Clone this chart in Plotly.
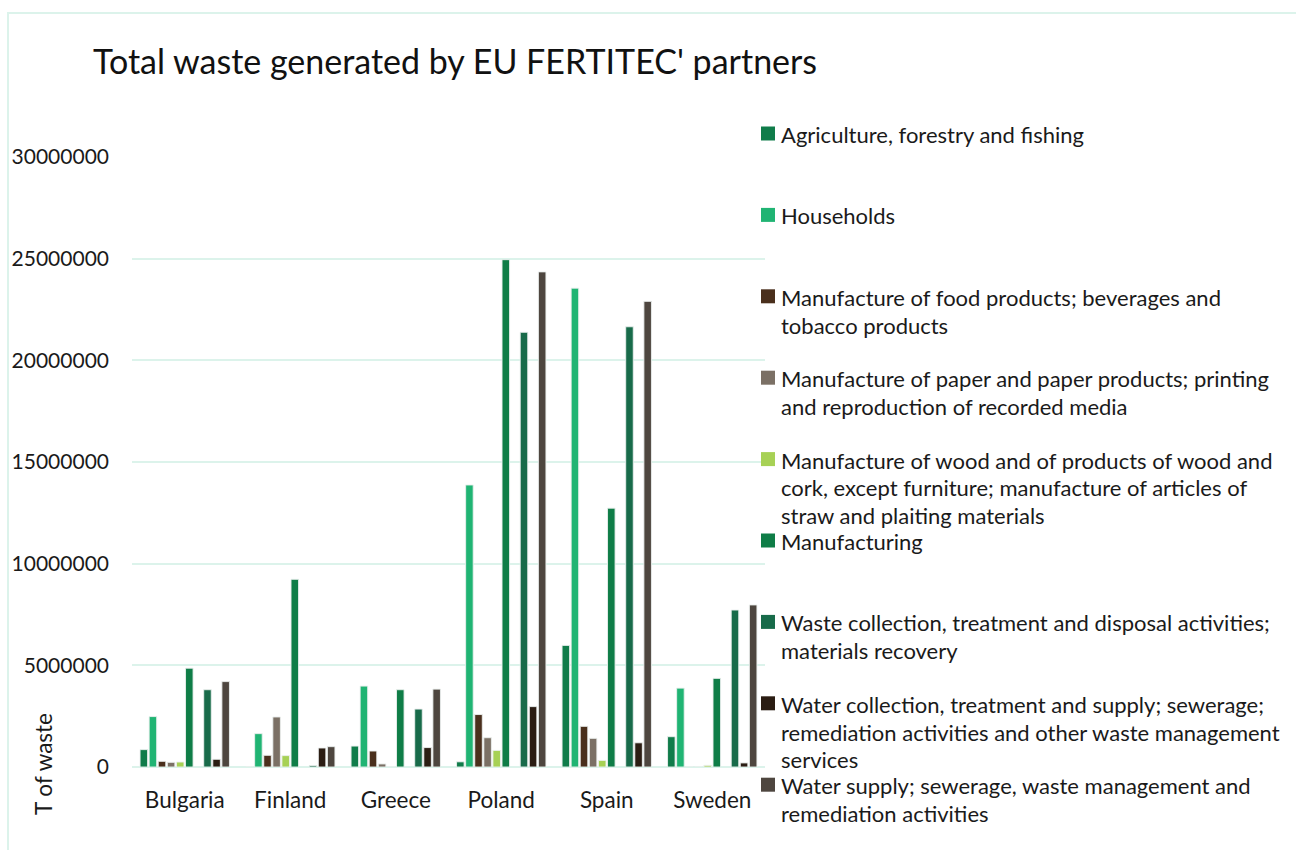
import plotly.graph_objects as go

countries = ["Bulgaria", "Finland", "Greece", "Poland", "Spain", "Sweden"]

agriculture = [855000, 0, 1030000, 255000, 5980000, 1490000]
households = [2480000, 1640000, 3980000, 13870000, 23550000, 3880000]
food_products = [280000, 575000, 786000, 2580000, 2000000, 0]
paper_products = [230000, 2460000, 150000, 1440000, 1410000, 0]
wood_products = [245000, 560000, 0, 816000, 323000, 80000]
manufacturing = [4860000, 9230000, 3800000, 24950000, 12730000, 4360000]
other_sectors = [None, None, None, None, None, None]
waste_collection = [3800000, 70000, 2850000, 21380000, 21650000, 7720000]
water_collection = [380000, 935000, 955000, 2970000, 1190000, 200000]
water_supply = [4200000, 1000000, 3830000, 24350000, 22900000, 7970000]

y_ticks = [0, 5000000, 10000000, 15000000, 20000000, 25000000, 30000000]

# (legend label lines, values, colour, listed in legend)
series = [
    (["Agriculture, forestry and fishing"], agriculture, "#107C4A", True),
    (["Households"], households, "#20B473", True),
    (["Manufacture of food products; beverages and",
      "tobacco products"], food_products, "#4A2F1C", True),
    (["Manufacture of paper and paper products; printing",
      "and reproduction of recorded media"], paper_products, "#7B7065", True),
    (["Manufacture of wood and of products of wood and",
      "cork, except furniture; manufacture of articles of",
      "straw and plaiting materials"], wood_products, "#A7D155", True),
    (["Manufacturing"], manufacturing, "#0F7D47", True),
    (["Other sectors"], other_sectors, "#FFFFFF", False),
    (["Waste collection, treatment and disposal activities;",
      "materials recovery"], waste_collection, "#186B4A", True),
    (["Water collection, treatment and supply; sewerage;",
      "remediation activities and other waste management",
      "services"], water_collection, "#2B1D13", True),
    (["Water supply; sewerage, waste management and",
      "remediation activities"], water_supply, "#4E463F", True),
]

FONT = "Lato, Calibri, Carlito, sans-serif"
GRID = "#DCF3EB"
TEXT = "#1a1a1a"

# plot area in pixels: x 132..765, y 157..767
L, R, T, B = 132, 765, 157, 767
W, H = 1296, 850
pw, ph = R - L, B - T


def px_x(x):
    return (x - L) / pw


def px_y(y):
    return (B - y) / ph


fig = go.Figure()
for lines, values, color, listed in series:
    fig.add_trace(go.Bar(
        name=" ".join(lines),
        x=countries,
        y=values,
        marker=dict(color=color, line=dict(color="rgba(235,240,238,0.9)", width=1)),
        showlegend=False,
    ))

# Legend drawn on the right: a square swatch and wrapped label lines per entry
annotations = []
shapes = []
entry_top = 133.5      # centre of the first entry's first line (px)
entry_step = 81.4      # vertical distance between entries (px)
line_step = 27.8       # distance between wrapped lines (px)
swatch = 14
k = 0
for lines, values, color, listed in series:
    if not listed:
        continue
    yc = entry_top + k * entry_step
    shapes.append(dict(
        type="rect", xref="paper", yref="paper",
        x0=px_x(761), x1=px_x(761 + swatch),
        y0=px_y(yc + swatch / 2), y1=px_y(yc - swatch / 2),
        fillcolor=color, line=dict(width=0), layer="above",
    ))
    for j, line in enumerate(lines):
        annotations.append(dict(
            text=line, xref="paper", yref="paper",
            x=px_x(779), y=px_y(yc + j * line_step + 1),
            xanchor="left", yanchor="middle",
            showarrow=False,
            font=dict(family=FONT, size=22, color=TEXT),
        ))
    k += 1

annotations.append(dict(
    text="T of waste",
    xref="paper", yref="paper",
    x=px_x(43), y=px_y(764),
    xanchor="center", yanchor="middle",
    textangle=-90,
    showarrow=False,
    font=dict(family=FONT, size=22.5, color=TEXT),
))

# light outer frame of the chart
shapes.append(dict(
    type="rect",
    xref="paper", yref="paper",
    x0=px_x(8), x1=px_x(1310),
    y0=px_y(870), y1=px_y(13),
    line=dict(color=GRID, width=2),
    fillcolor="rgba(0,0,0,0)",
    layer="below",
))

fig.update_layout(
    width=W,
    height=H,
    margin=dict(l=L, r=W - R, t=T, b=H - B, pad=0),
    paper_bgcolor="white",
    plot_bgcolor="white",
    barmode="group",
    bargap=0.138,
    bargroupgap=0.17,
    showlegend=False,
    font=dict(family=FONT, size=21, color=TEXT),
    title=dict(
        text="Total waste generated by EU FERTITEC' partners",
        x=93 / W, xanchor="left",
        y=1 - 62 / H, yanchor="middle",
        font=dict(family=FONT, size=34, color="#111111"),
    ),
    xaxis=dict(
        showgrid=False,
        showline=False,
        ticks="",
        tickfont=dict(family=FONT, size=22.5, color=TEXT),
        ticklabelstandoff=17,
    ),
    yaxis=dict(
        range=[0, 30000000],
        tickvals=y_ticks,
        ticktext=[str(v) for v in y_ticks],
        showgrid=True,
        gridcolor=GRID,
        gridwidth=2,
        zeroline=True,
        zerolinecolor=GRID,
        zerolinewidth=2,
        showline=False,
        ticks="",
        tickfont=dict(family=FONT, size=21, color=TEXT),
        ticklabelstandoff=22,
    ),
    annotations=annotations,
    shapes=shapes,
)

fig.write_html("out.html")
